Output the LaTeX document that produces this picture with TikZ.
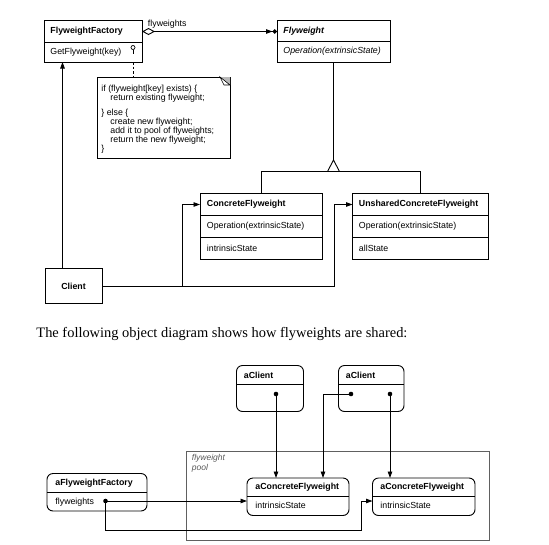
\documentclass[tikz,border=0pt]{standalone}
\usepackage{fontspec}
\setmainfont{Liberation Serif}
\setsansfont{Liberation Sans}
\usetikzlibrary{arrows.meta}
\begin{document}
\begin{tikzpicture}[x=1pt,y=-1pt,
  font=\sffamily\fontsize{8.8}{10}\selectfont,
  line width=0.9pt,
  box/.style={draw, anchor=north west, inner sep=0pt, outer sep=0pt},
  obj/.style={box, rounded corners=6pt},
  txt/.style={anchor=west, inner sep=0pt},
  arr/.style={-{Triangle[length=6.5pt,width=4.5pt]}},
  dotn/.style={circle, fill, inner sep=0pt, minimum size=4.6pt},
]
\useasboundingbox (0,0) rectangle (549,544);

% ---------- class structure ----------
\node[box, minimum width=97.5pt, minimum height=41.5pt] (ff) at (44.5,20.5) {};
\draw ([yshift=-22pt]ff.north west) -- ([yshift=-22pt]ff.north east);
\node[txt] (fft) at (50,31.5) {\bfseries FlyweightFactory};
\node[txt] (ffm) at (50,52.5) {GetFlyweight(key)};

\node[box, minimum width=113pt, minimum height=41.5pt] (fw) at (277,20.5) {};
\draw ([yshift=-21pt]fw.north west) -- ([yshift=-21pt]fw.north east);
\node[txt] (fwt) at (283,31) {\bfseries\itshape Flyweight};
\node[txt] (fwm) at (283,51.5) {\itshape Operation(extrinsicState)};

\draw[{Diamond[open,length=13pt,width=7pt]}-{Triangle[length=6.5pt,width=4.5pt] Circle[length=4.5pt]}]
  (ff.east |- fft) -- (fw.west |- fft);
\node[txt] (agl) at (147.5,24) {flyweights};

% implementation note
\node[box, minimum width=132.5pt, minimum height=81pt] (nt) at (97.5,77) {};
\fill[gray!55] ([xshift=-10pt]nt.north east) -- (nt.north east) -- ([yshift=-8pt]nt.north east) -- cycle;
\draw[fill=white, line width=0.6pt] ([xshift=-10pt]nt.north east) -- ([yshift=-8pt]nt.north east)
  -- ([xshift=-6pt,yshift=-8pt]nt.north east) -- cycle;
\node[anchor=north west, inner sep=0pt, align=left, font=\sffamily\fontsize{8.8}{9.1}\selectfont] (ntx) at (101,84.5)
  {if (flyweight[key] exists) \{\\
   \hspace*{9pt}return existing flyweight;\\[5.5pt]
   \} else \{\\
   \hspace*{9pt}create new flyweight;\\
   \hspace*{9pt}add it to pool of flyweights;\\
   \hspace*{9pt}return the new flyweight;\\
   \}};

\node[circle, draw, inner sep=0pt, minimum size=4pt, line width=0.7pt] (lol) at (133,47.5) {};
\draw (lol.south) -- ++(0,4);
\draw[dash pattern=on 2.5pt off 2pt] (lol |- ff.south) -- (lol |- nt.north);

% subclasses
\node[box, minimum width=122.5pt, minimum height=65.5pt] (cf) at (200,193.5) {};
\draw ([yshift=-22pt]cf.north west) -- ([yshift=-22pt]cf.north east);
\draw ([yshift=-43.5pt]cf.north west) -- ([yshift=-43.5pt]cf.north east);
\node[txt] (cft) at (206.5,204.5) {\bfseries ConcreteFlyweight};
\node[txt] (cfm) at (206.5,226.5) {Operation(extrinsicState)};
\node[txt] (cfs) at (206.5,248) {intrinsicState};

\node[box, minimum width=135.5pt, minimum height=65.5pt] (ucf) at (352.5,193.5) {};
\draw ([yshift=-22pt]ucf.north west) -- ([yshift=-22pt]ucf.north east);
\draw ([yshift=-43.5pt]ucf.north west) -- ([yshift=-43.5pt]ucf.north east);
\node[txt] (ucft) at (358.5,204.5) {\bfseries UnsharedConcreteFlyweight};
\node[txt] (ucfm) at (358.5,226.5) {Operation(extrinsicState)};
\node[txt] (ucfs) at (358.5,248) {allState};

% generalization
\coordinate (gen) at ([yshift=-98pt]fw.south);
\draw (fw.south) -- (gen);
\draw[fill=white] (gen) -- ++(6,11.5) -- ++(-12,0) -- cycle;
\draw (cf.north) |- ([yshift=-11.5pt]gen) -| (ucf.north);

% client
\node[box, minimum width=57pt, minimum height=35pt] (cl) at (45,268.5) {\bfseries Client};
\draw[arr] ([xshift=17.5pt]cl.north west) -- ([xshift=17.5pt]cl.north west |- ff.south);
\draw[arr] (cl.east) -- ++(80.5,0) |- (cf.west |- cft);
\draw[arr] (cl.east) -- ++(232,0) |- (ucf.west |- ucft);

% caption
\node[anchor=base west, inner sep=0pt] (cap) at (36,337)
  {\resizebox{371pt}{!}{\rmfamily The following object diagram shows how flyweights are shared:}};

% ---------- object structure ----------
\node[box, draw=gray!75!black, minimum width=302.5pt, minimum height=88.5pt] (pool) at (186.5,451.5) {};
\node[anchor=north west, inner sep=0pt, align=left, text=gray!70!black,
  font=\sffamily\itshape\fontsize{8.5}{9.5}\selectfont] (pl) at (191.5,454) {flyweight\\pool};

\node[obj, minimum width=67pt, minimum height=46pt] (ac1) at (236.5,365.5) {};
\draw ([yshift=-18.5pt]ac1.north west) -- ([yshift=-18.5pt]ac1.north east);
\node[txt] (ac1t) at (243.5,375.5) {\bfseries aClient};
\node[dotn] (d1) at (276,394) {};

\node[obj, minimum width=65.5pt, minimum height=46pt] (ac2) at (338.5,365.5) {};
\draw ([yshift=-18.5pt]ac2.north west) -- ([yshift=-18.5pt]ac2.north east);
\node[txt] (ac2t) at (345.5,375.5) {\bfseries aClient};
\node[dotn] (d2) at (351,394) {};
\node[dotn] (d3) at (390,394) {};

\node[obj, minimum width=102pt, minimum height=37.5pt] (acf1) at (247,478) {};
\draw ([yshift=-18.5pt]acf1.north west) -- ([yshift=-18.5pt]acf1.north east);
\node[txt] (acf1t) at (255,487) {\bfseries aConcreteFlyweight};
\node[txt] (acf1s) at (255,505) {intrinsicState};

\node[obj, minimum width=102.5pt, minimum height=37.5pt] (acf2) at (372.5,478) {};
\draw ([yshift=-18.5pt]acf2.north west) -- ([yshift=-18.5pt]acf2.north east);
\node[txt] (acf2t) at (380,487) {\bfseries aConcreteFlyweight};
\node[txt] (acf2s) at (380,505) {intrinsicState};

\node[obj, minimum width=100pt, minimum height=37.5pt] (aff) at (47,473.5) {};
\draw ([yshift=-18.5pt]aff.north west) -- ([yshift=-18.5pt]aff.north east);
\node[txt] (afft) at (55,483) {\bfseries aFlyweightFactory};
\node[txt] (affs) at (55,502) {flyweights};
\node[dotn] (d0) at (105.5,501) {};

% references
\draw[arr] (d1.center) -- (d1 |- acf1.north);
\draw[arr] (d2.center) -- ++(-28,0) coordinate (d2k) -- (d2k |- acf1.north);
\draw[arr] (d3.center) -- (d3 |- acf2.north);
\draw[arr] (d0.center) -- (acf1.west |- d0);
\draw[arr] (d0.center) -- ++(0,29) -- ++(255.5,0) |- (acf2.west |- d0);
\end{tikzpicture}
\end{document}
